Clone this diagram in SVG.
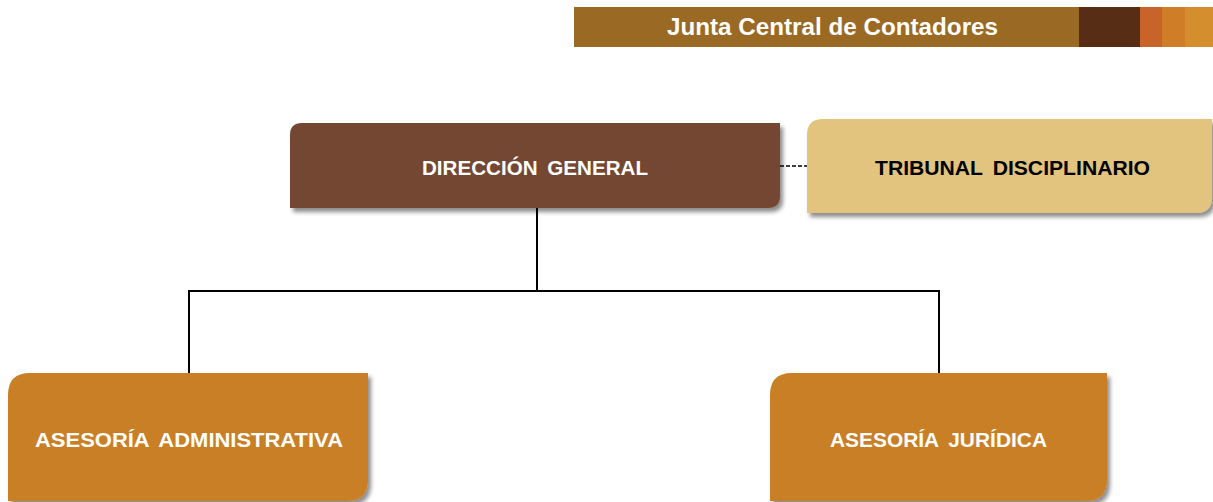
<svg xmlns="http://www.w3.org/2000/svg" width="1213" height="502" viewBox="0 0 1213 502">
<defs>
<filter id="sh" x="-5%" y="-5%" width="115%" height="125%">
<feDropShadow dx="3" dy="4" stdDeviation="2" flood-color="#000" flood-opacity="0.45"/>
</filter>
<style>
.t{font-family:"Liberation Sans",Arial,sans-serif;font-weight:bold;text-anchor:middle;word-spacing:4px}
.w{fill:#fff}
.k{fill:#000}
.c{stroke:#000;stroke-width:2;fill:none}
</style>
</defs>
<rect width="1213" height="502" fill="#fff"/>
<g id="header">
<rect x="574" y="7" width="505" height="40" fill="#9A6A24"/>
<rect x="1079" y="7" width="61" height="40" fill="#572D15"/>
<rect x="1140" y="7" width="22" height="40" fill="#C8642A"/>
<rect x="1162" y="7" width="23" height="40" fill="#D07D28"/>
<rect x="1185" y="7" width="28" height="40" fill="#D48E2E"/>
<text class="t w" x="832.5" y="35" font-size="23" textLength="331" lengthAdjust="spacingAndGlyphs" style="word-spacing:0">Junta Central de Contadores</text>
</g>
<g id="connectors">
<path class="c" d="M537 208V291M189 291H939M189 290V373M939 290V373"/>
<path d="M780 166H807" stroke="#000" stroke-width="1.5" stroke-dasharray="4 2"/>
</g>
<g id="direccion">
<path d="M302 123H780V196Q780 208 768 208H290V135Q290 123 302 123Z" fill="#734730" filter="url(#sh)"/>
<text class="t w" x="535" y="175" font-size="20.5" textLength="226" lengthAdjust="spacingAndGlyphs">DIRECCIÓN GENERAL</text>
</g>
<g id="tribunal">
<path d="M823 119H1212V197Q1212 213 1196 213H807V135Q807 119 823 119Z" fill="#E3C47F" filter="url(#sh)"/>
<text class="t k" x="1012.5" y="175" font-size="20.5" textLength="275" lengthAdjust="spacingAndGlyphs">TRIBUNAL DISCIPLINARIO</text>
</g>
<g id="admin">
<path d="M30 373H368V480Q368 501 347 501H8V395Q8 373 30 373Z" fill="#C97F28" filter="url(#sh)"/>
<text class="t w" x="189" y="447" font-size="21" textLength="308" lengthAdjust="spacingAndGlyphs">ASESORÍA ADMINISTRATIVA</text>
</g>
<g id="juridica">
<path d="M792 373H1107V480Q1107 501 1086 501H770V395Q770 373 792 373Z" fill="#C97F28" filter="url(#sh)"/>
<text class="t w" x="938.5" y="447" font-size="21" textLength="217" lengthAdjust="spacingAndGlyphs">ASESORÍA JURÍDICA</text>
</g>
</svg>
